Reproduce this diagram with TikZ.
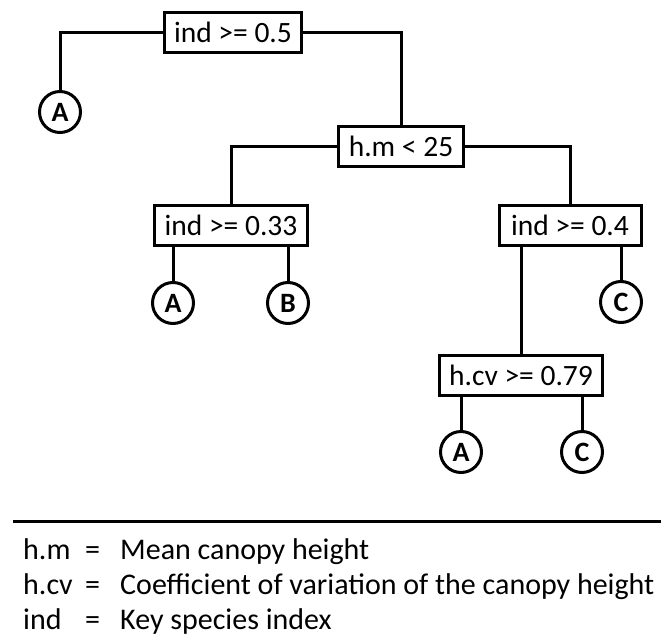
\documentclass[tikz,border=0pt]{standalone}
\usepackage{fontspec}
\setmainfont{Carlito}
\usetikzlibrary{positioning,calc}
\tikzset{
  branch/.style={line width=3pt, draw=black},
  split/.style={draw=black, line width=3pt, fill=white, minimum height=40pt, inner sep=0pt, font=\fontsize{29.5}{34}\selectfont},
  leaf/.style={circle, draw=black, line width=3pt, fill=white, minimum size=41pt, inner sep=0pt, font=\fontsize{28}{32}\selectfont\bfseries},
  legend/.style={anchor=base west, inner sep=0pt, font=\fontsize{30}{34}\selectfont}
}

\begin{document}
\begin{tikzpicture}[x=1pt,y=-1pt]
  \useasboundingbox (0,0) rectangle (661,637);

  % Splits of the tree.
  \node[split, minimum width=137pt] (root) at (233,32) {ind >= 0.5};
  \node[split, minimum width=125pt] (hm) at (401,146) {h.m < 25};
  \node[split, minimum width=153pt] (ind33) at (231,225) {ind >= 0.33};
  \node[split, minimum width=142pt] (ind04) at (570,225) {ind >= 0.4};
  \node[split, minimum width=163pt] (hcv) at (521,375) {h.cv >= 0.79};

  % Leaves.
  \node[leaf] (leafA1) at (60,112) {A};
  \node[leaf] (leafA2) at (173,303) {A};
  \node[leaf] (leafB) at (288,303) {B};
  \node[leaf] (leafC1) at (621,302) {C};
  \node[leaf] (leafA3) at (461,452) {A};
  \node[leaf] (leafC2) at (582,452) {C};

  % Branches.
  \draw[branch] (root.west) -| (leafA1.north);
  \draw[branch] (root.east) -| (hm.north);
  \draw[branch] (hm.west) -| (ind33.north);
  \draw[branch] (hm.east) -| (ind04.north);
  \draw[branch] (ind33.south -| leafA2.north) -- (leafA2.north);
  \draw[branch] (ind33.south -| leafB.north) -- (leafB.north);
  \draw[branch] (ind04.south -| hcv.north) -- (hcv.north);
  \draw[branch] (ind04.south -| leafC1.north) -- (leafC1.north);
  \draw[branch] (hcv.south -| leafA3.north) -- (leafA3.north);
  \draw[branch] (hcv.south -| leafC2.north) -- (leafC2.north);

  % Legend.
  \draw[line width=3pt] (13,521) -- (661,521);
  \node[legend] (keyhm) at (23,559) {h.m};
  \node[legend] (eqhm) at (85,559) {=};
  \node[legend] (txthm) at (120,559) {Mean canopy height};
  \node[legend] (keyhcv) at (23,594) {h.cv};
  \node[legend] (eqhcv) at (85,594) {=};
  \node[legend] (txthcv) at (120,594) {Coefficient of variation of the canopy height};
  \node[legend] (keyind) at (23,629) {ind};
  \node[legend] (eqind) at (85,629) {=};
  \node[legend] (txtind) at (120,629) {Key species index};
\end{tikzpicture}
\end{document}
